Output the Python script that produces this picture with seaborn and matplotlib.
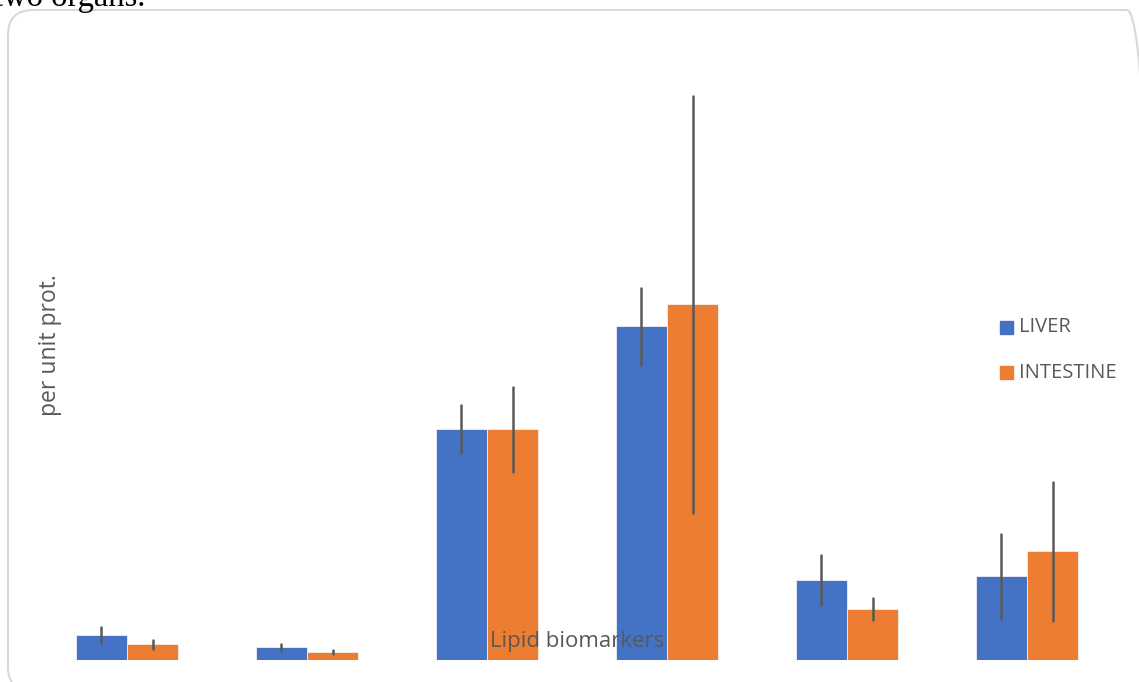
"""Liver vs intestine lipid biomarker bars, Excel-like styling."""

import matplotlib

matplotlib.use("Agg")
import matplotlib.pyplot as plt
import pandas as pd
import seaborn as sns
from matplotlib.patches import FancyBboxPatch

biomarkers = ["B1", "B2", "B3", "B4", "B5", "B6"]
liver_mean = [25, 13, 231, 334, 80, 84]
liver_err = [8, 3.5, 24, 38.5, 25, 42.5]
intestine_mean = [16, 8, 231, 356, 51, 109]
intestine_err = [4.5, 2, 42.5, 208.5, 11, 69.5]
organs = ["LIVER", "INTESTINE"]
colors = ["#4472C4", "#ED7D31"]


def main() -> None:
    sns.set_theme(style="white")
    plt.rcParams["font.family"] = ["Open Sans", "DejaVu Sans"]

    df = pd.DataFrame(
        {
            "biomarker": biomarkers * 2,
            "organ": [organs[0]] * 6 + [organs[1]] * 6,
            "value": liver_mean + intestine_mean,
        }
    )

    fig = plt.figure(figsize=(11.39, 6.82), dpi=100)
    ax = fig.add_axes([37 / 1139, 22 / 682, 1080 / 1139, 620 / 682])

    sns.barplot(
        data=df, x="biomarker", y="value", hue="organ", order=biomarkers,
        hue_order=organs, palette=colors, width=0.567, gap=0,
        errorbar=None, saturation=1, edgecolor="#f0f0f0", linewidth=0.6,
        ax=ax, legend=False,
    )

    # error bars at the centre of each drawn bar
    errs = liver_err + intestine_err
    for patch, e in zip(ax.patches, errs):
        cx = patch.get_x() + patch.get_width() / 2
        top = patch.get_height()
        ax.plot([cx, cx], [top - e, top + e], color="#595959", lw=1.8, zorder=5)

    ax.set_ylim(0, 620)
    ax.set_xlim(-0.5, 5.5)
    ax.set_xticks([])
    ax.set_yticks([])
    ax.set_xlabel("")
    ax.set_ylabel("")
    for s in ax.spines.values():
        s.set_visible(False)
    ax.patch.set_alpha(0)

    ax.text(2.5, 19, "Lipid biomarkers", ha="center", va="center",
            fontsize=16, color="#595959", zorder=10)
    fig.text(50 / 1139, 1 - 345 / 682, "per unit prot.", rotation=90,
             ha="center", va="center", fontsize=16.5, color="#595959")

    # legend
    for i, (name, c) in enumerate(zip(organs, colors)):
        y = 1 - (327 + 46 * i) / 682
        fig.patches.append(plt.Rectangle((1000 / 1139, y - 6.5 / 682), 13 / 1139, 13 / 682,
                                         transform=fig.transFigure, color=c))
        fig.text(1019 / 1139, y, name, ha="left", va="center",
                 fontsize=14.5, color="#595959")

    # rounded chart frame, partially off-canvas
    frame = FancyBboxPatch((8 / 1139, -10 / 682), 1144 / 1139, 682 / 682,
                           boxstyle="round,pad=0,rounding_size=0.022",
                           transform=fig.transFigure, facecolor="none",
                           edgecolor="#D9D9D9", linewidth=1.5, mutation_aspect=1139 / 682)
    fig.patches.append(frame)

    # clipped caption from the surrounding document
    fig.text(-6 / 1139, 1 - 6 / 682, "two organs.", ha="left", va="baseline",
             fontsize=23.5, color="black", family=["Liberation Serif"])

    fig.savefig("out.png", dpi=100)
    plt.close(fig)


if __name__ == "__main__":
    main()
